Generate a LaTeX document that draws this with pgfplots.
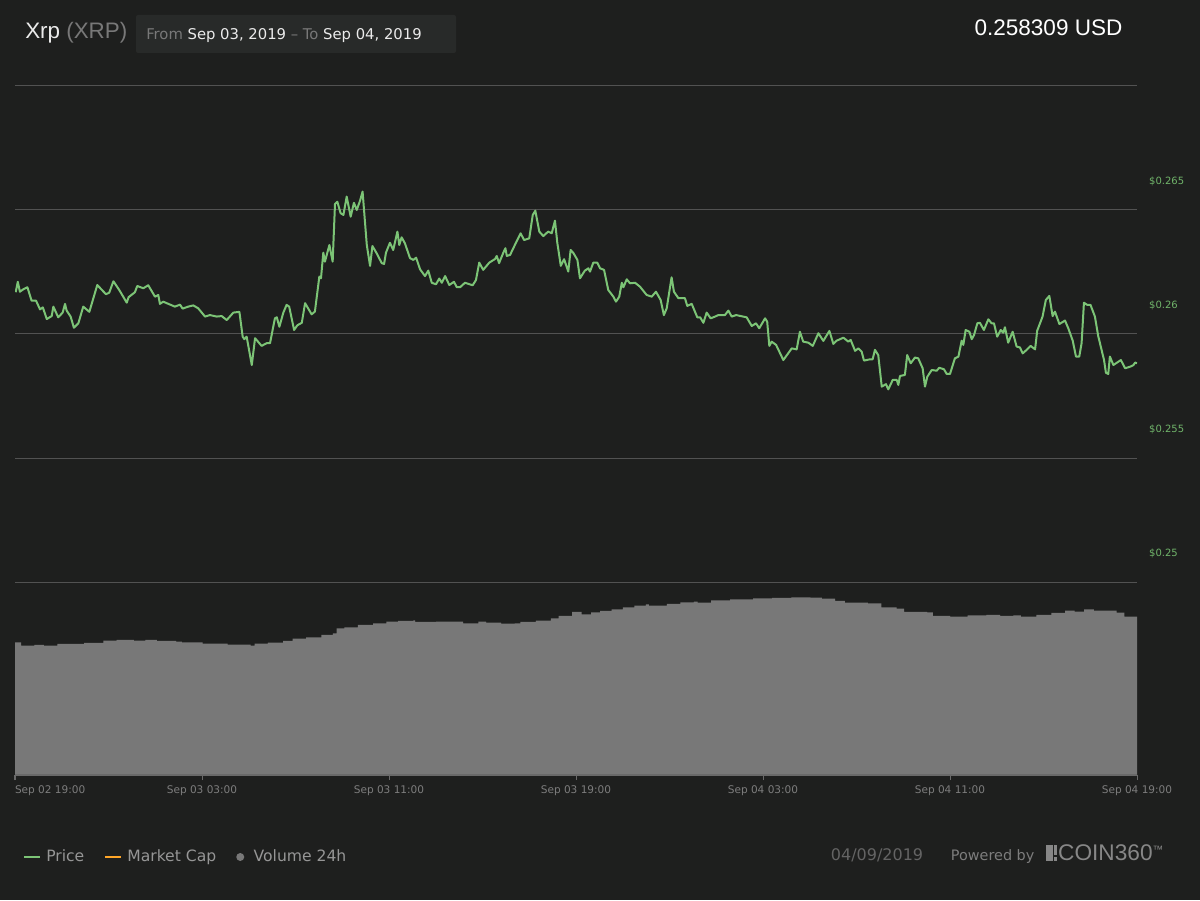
\documentclass[border=0pt]{standalone}
\usepackage{pgfplots}
\pgfplotsset{compat=1.18}
\usepackage{pgfplotstable}
\usepackage{fontspec}
\setmainfont{DejaVu Sans}
\newfontfamily\arialf{Liberation Sans}
\definecolor{bg}{RGB}{30,31,30}
\definecolor{boxcol}{RGB}{40,42,41}
\definecolor{gridcol}{RGB}{82,82,82}
\definecolor{axcol}{RGB}{105,105,105}
\definecolor{ticklab}{RGB}{125,125,125}
\definecolor{pricecol}{RGB}{124,196,118}
\definecolor{pricelab}{RGB}{112,180,106}
\definecolor{volcol}{RGB}{120,120,120}
\definecolor{legtext}{RGB}{150,150,150}
\definecolor{orangecol}{RGB}{255,166,40}
\definecolor{dimtext}{RGB}{120,120,120}
\definecolor{brighttext}{RGB}{235,235,235}
\definecolor{datecol}{RGB}{100,100,100}
\definecolor{powcol}{RGB}{125,125,125}
\definecolor{logocol}{RGB}{135,135,135}

\pgfplotstableread{
h p
0.03 0.26168
0.12 0.26210
0.21 0.26170
0.36 0.26180
0.53 0.26188
0.71 0.26134
0.90 0.26134
1.07 0.26099
1.19 0.26107
1.36 0.26060
1.57 0.26072
1.64 0.26110
1.85 0.26067
2.04 0.26086
2.14 0.26121
2.21 0.26094
2.38 0.26070
2.52 0.26025
2.71 0.26043
2.92 0.26110
3.18 0.26089
3.52 0.26197
3.89 0.26160
4.03 0.26166
4.21 0.26212
4.46 0.26177
4.78 0.26126
4.86 0.26148
5.13 0.26168
5.23 0.26193
5.49 0.26184
5.70 0.26196
5.99 0.26150
6.13 0.26157
6.20 0.26121
6.34 0.26130
6.49 0.26124
6.84 0.26110
7.06 0.26118
7.17 0.26102
7.41 0.26110
7.63 0.26115
7.84 0.26103
8.13 0.26070
8.34 0.26076
8.63 0.26070
8.84 0.26072
9.06 0.26056
9.34 0.26086
9.60 0.26089
9.74 0.25989
9.81 0.25979
9.91 0.25989
10.13 0.25875
10.27 0.25983
10.55 0.25952
10.77 0.25963
10.91 0.25963
11.12 0.26063
11.20 0.26067
11.31 0.26029
11.48 0.26086
11.62 0.26117
11.73 0.26110
11.94 0.26016
12.08 0.26035
12.27 0.26045
12.41 0.26124
12.69 0.26079
12.83 0.26090
13.02 0.26231
13.09 0.26224
13.19 0.26327
13.26 0.26291
13.45 0.26358
13.59 0.26291
13.69 0.26523
13.79 0.26532
13.93 0.26486
14.05 0.26479
14.19 0.26553
14.36 0.26472
14.50 0.26528
14.62 0.26499
14.76 0.26536
14.87 0.26573
15.05 0.26358
15.19 0.26274
15.29 0.26354
15.47 0.26325
15.69 0.26285
15.79 0.26282
15.87 0.26327
16.04 0.26367
16.18 0.26338
16.36 0.26412
16.44 0.26358
16.54 0.26389
16.68 0.26365
16.90 0.26305
17.04 0.26298
17.16 0.26307
17.33 0.26260
17.54 0.26233
17.68 0.26255
17.83 0.26206
18.01 0.26200
18.15 0.26223
18.26 0.26206
18.40 0.26233
18.58 0.26197
18.78 0.26210
18.90 0.26188
19.04 0.26188
19.25 0.26206
19.58 0.26196
19.72 0.26217
19.86 0.26287
20.03 0.26258
20.29 0.26287
20.54 0.26302
20.61 0.26314
20.71 0.26285
20.89 0.26327
20.98 0.26345
21.04 0.26314
21.18 0.26318
21.43 0.26367
21.63 0.26405
21.78 0.26378
22.00 0.26385
22.15 0.26479
22.26 0.26496
22.43 0.26412
22.60 0.26394
22.81 0.26412
22.96 0.26405
23.10 0.26456
23.20 0.26367
23.35 0.26274
23.49 0.26301
23.67 0.26251
23.77 0.26338
23.88 0.26327
24.06 0.26298
24.17 0.26224
24.38 0.26255
24.53 0.26264
24.60 0.26251
24.74 0.26287
24.91 0.26287
25.03 0.26264
25.20 0.26258
25.38 0.26177
25.60 0.26150
25.71 0.26130
25.85 0.26150
25.96 0.26206
26.03 0.26188
26.17 0.26220
26.31 0.26204
26.53 0.26206
26.74 0.26190
27.02 0.26157
27.24 0.26150
27.42 0.26170
27.62 0.26137
27.76 0.26076
27.88 0.26103
28.09 0.26228
28.19 0.26170
28.38 0.26144
28.66 0.26144
28.76 0.26113
28.95 0.26121
29.19 0.26067
29.31 0.26067
29.45 0.26045
29.59 0.26086
29.76 0.26063
29.95 0.26070
30.09 0.26076
30.37 0.26076
30.52 0.26094
30.66 0.26070
30.85 0.26076
31.30 0.26067
31.52 0.26032
31.70 0.26043
31.84 0.26023
32.09 0.26063
32.18 0.26049
32.27 0.25952
32.37 0.25969
32.56 0.25956
32.87 0.25895
33.23 0.25942
33.44 0.25938
33.58 0.26009
33.72 0.25969
33.94 0.25965
34.13 0.25952
34.37 0.26003
34.58 0.25972
34.84 0.26012
35.01 0.25960
35.15 0.25973
35.44 0.25985
35.65 0.25969
35.75 0.25976
35.94 0.25932
36.08 0.25942
36.22 0.25929
36.32 0.25893
36.58 0.25898
36.69 0.25898
36.79 0.25936
36.93 0.25915
37.08 0.25788
37.26 0.25798
37.36 0.25777
37.55 0.25815
37.72 0.25815
37.79 0.25795
37.86 0.25831
38.07 0.25835
38.17 0.25915
38.32 0.25882
38.50 0.25905
38.64 0.25902
38.83 0.25862
38.93 0.25788
39.03 0.25828
39.22 0.25855
39.43 0.25852
39.54 0.25864
39.74 0.25858
39.86 0.25839
40.00 0.25839
40.21 0.25902
40.36 0.25909
40.50 0.25973
40.57 0.25956
40.67 0.26016
40.83 0.26009
40.93 0.25979
41.03 0.25996
41.17 0.26043
41.28 0.26045
41.45 0.26016
41.64 0.26059
41.78 0.26043
41.88 0.26043
42.02 0.25989
42.17 0.26016
42.28 0.26005
42.35 0.26027
42.49 0.25965
42.68 0.26009
42.85 0.25949
42.99 0.25946
43.11 0.25922
43.28 0.25936
43.45 0.25952
43.64 0.25938
43.73 0.26013
43.96 0.26070
44.10 0.26137
44.25 0.26153
44.39 0.26072
44.49 0.26090
44.68 0.26040
44.92 0.26054
45.06 0.26023
45.25 0.25973
45.39 0.25909
45.53 0.25909
45.63 0.25963
45.73 0.26126
45.87 0.26117
46.01 0.26117
46.20 0.26070
46.34 0.25992
46.59 0.25895
46.67 0.25844
46.77 0.25839
46.84 0.25909
46.99 0.25875
47.31 0.25895
47.49 0.25862
47.70 0.25868
47.85 0.25875
47.92 0.25885
48.00 0.25882
}\pricetable

\pgfplotstableread{
h v
0 132.7
0.26 129.3
0.83 130
1.24 129.3
1.81 131
2.96 132
3.78 134.3
4.35 135
5.09 134.3
5.58 135
6.07 134
6.89 133.3
7.14 132.7
8.03 131.3
9.10 130.3
10.08 129.3
10.25 131.3
10.82 132.3
11.47 134
11.88 136.3
12.45 137.7
13.11 140
13.60 141.7
13.76 146.7
14.09 147.7
14.67 150
15.32 151.7
15.89 153.3
16.39 154
17.04 154.7
17.12 153
18.02 153.3
19.17 151.7
19.82 153.3
20.15 152.3
20.80 151.3
21.38 151.7
21.62 153
22.28 154.3
22.93 156.7
23.26 159
23.83 163
24.24 160.7
24.65 162.7
25.03 164
25.52 165.7
26.01 167.7
26.50 169.3
26.99 170.7
27.12 169.3
27.89 171
28.47 172.7
29.04 173.3
29.20 172.3
29.78 174.7
30.59 175.7
31.58 176.7
32.39 177
33.21 177.7
34.03 177.3
34.52 176.3
35.09 174
35.50 172.3
36.49 171.7
37.06 167.7
37.72 166.3
38.04 163
39.02 162.7
39.27 159
40.00 158.3
40.75 159.7
41.56 160
42.14 159
42.71 159.7
43.03 158.3
43.69 160
44.34 162
44.92 164.3
45.33 163.3
45.74 165.7
46.15 164.3
46.97 164.3
47.13 162.3
47.46 158.3
48 156.7
}\voltable

\begin{document}
\begin{tikzpicture}
\useasboundingbox (0,0) rectangle (900pt,675pt);
\fill[bg] (0,0) rectangle (900pt,675pt);
% header
\fill[boxcol, rounded corners=1.5pt] (102pt,663.75pt) rectangle (342pt,635.25pt);
\node[anchor=base west, inner sep=0pt, font=\arialf\fontsize{16.8pt}{20pt}\selectfont] at (18.75pt,645.75pt)
  {\textcolor{brighttext}{Xrp} \textcolor{dimtext}{(XRP)}};
\node[anchor=base west, inner sep=0pt, font=\fontsize{11.1pt}{13pt}\selectfont] at (109.5pt,645.6pt)
  {\textcolor{dimtext}{From} \textcolor{brighttext}{Sep 03, 2019} \textcolor{dimtext}{\textendash{} To} \textcolor{brighttext}{Sep 04, 2019}};
\node[anchor=base east, inner sep=0pt, font=\arialf\fontsize{16.9pt}{20pt}\selectfont, text=white] at (842pt,648pt) {0.258309 USD};
% footer
\node[anchor=base west, inner sep=0pt, font=\fontsize{12pt}{14pt}\selectfont, text=datecol] at (623pt,29.5pt) {04/09/2019};
\node[anchor=base west, inner sep=0pt, font=\fontsize{10.8pt}{13pt}\selectfont, text=powcol] at (713pt,29.5pt) {Powered by};
\node[anchor=base west, inner sep=0pt, font=\arialf\fontsize{17pt}{20pt}\selectfont, text=logocol] at (784.3pt,29.5pt)
  {\rule{5.25pt}{12pt}\hspace{1pt}\rlap{\raisebox{4.3pt}{\rule{2.25pt}{7.7pt}}}\rule{2.25pt}{2.4pt}\hspace{0.6pt}COIN360\raisebox{5.5pt}{\fontsize{8pt}{9pt}\selectfont ™}};

% volume
\begin{axis}[at={(11.25pt,93.75pt)}, anchor=south west, scale only axis,
  width=841.5pt, height=517.5pt, xmin=0, xmax=48, ymin=0, ymax=690, hide axis]
\addplot[const plot, fill=volcol, draw=none] table[x=h,y=v]{\voltable} \closedcycle;
\end{axis}

% price
\begin{axis}[at={(11.25pt,93.75pt)}, anchor=south west, scale only axis,
  width=841.5pt, height=517.5pt,
  xmin=0, xmax=48, ymin=0.24225, ymax=0.27002,
  axis x line*=bottom, axis y line*=right,
  x axis line style={draw=axcol, line width=0.75pt, -},
  y axis line style={draw=none},
  xtick={0,8,16,24,32,40,48},
  xticklabels={\makebox[0pt][l]{Sep 02 19:00},Sep 03 03:00,Sep 03 11:00,Sep 03 19:00,Sep 04 03:00,Sep 04 11:00,Sep 04 19:00},
  tick align=outside,
  major tick length=3.75pt,
  xtick style={draw=axcol, line width=0.75pt},
  ytick={0.25,0.255,0.26,0.265,0.27},
  yticklabels={\$0.25,\$0.255,\$0.26,\$0.265,{}},
  ytick style={draw=none},
  ymajorgrids, grid style={draw=gridcol, line width=0.75pt},
  xticklabel style={font=\fontsize{7.9pt}{9pt}\selectfont, text=ticklab, inner sep=0pt, anchor=north, yshift=-4.2pt},
  yticklabel style={font=\fontsize{7.5pt}{9pt}\selectfont, text=pricelab, inner sep=0pt, anchor=west, xshift=5.2pt, yshift=21.5pt},
  legend image code/.code={\draw[#1] (0pt,0pt) -- (12pt,0pt);},
  legend cell align=left,
  legend style={draw=none, fill=none, at={(0,0)}, anchor=west, xshift=6pt, yshift=-61.5pt,
    legend columns=-1, font=\fontsize{11.7pt}{14pt}\selectfont, text=legtext,
    inner sep=0pt, nodes={inner sep=0pt},
    /tikz/every odd column/.append style={column sep=3.75pt},
    /tikz/every even column/.append style={column sep=15pt}},
]
\addplot[pricecol, line width=1.5pt, line join=round] table[x=h,y=p]{\pricetable};
\addlegendentry{Price}
\addlegendimage{orangecol, line width=1.5pt}
\addlegendentry{Market Cap}
\addlegendimage{legend image code/.code={\fill[volcol, draw=none] (3pt,0pt) circle (3pt); \path[draw=none, fill=none] (0pt,0pt) -- (9.3pt,0pt);}}
\addlegendentry{Volume 24h}
\end{axis}
\end{tikzpicture}
\end{document}
